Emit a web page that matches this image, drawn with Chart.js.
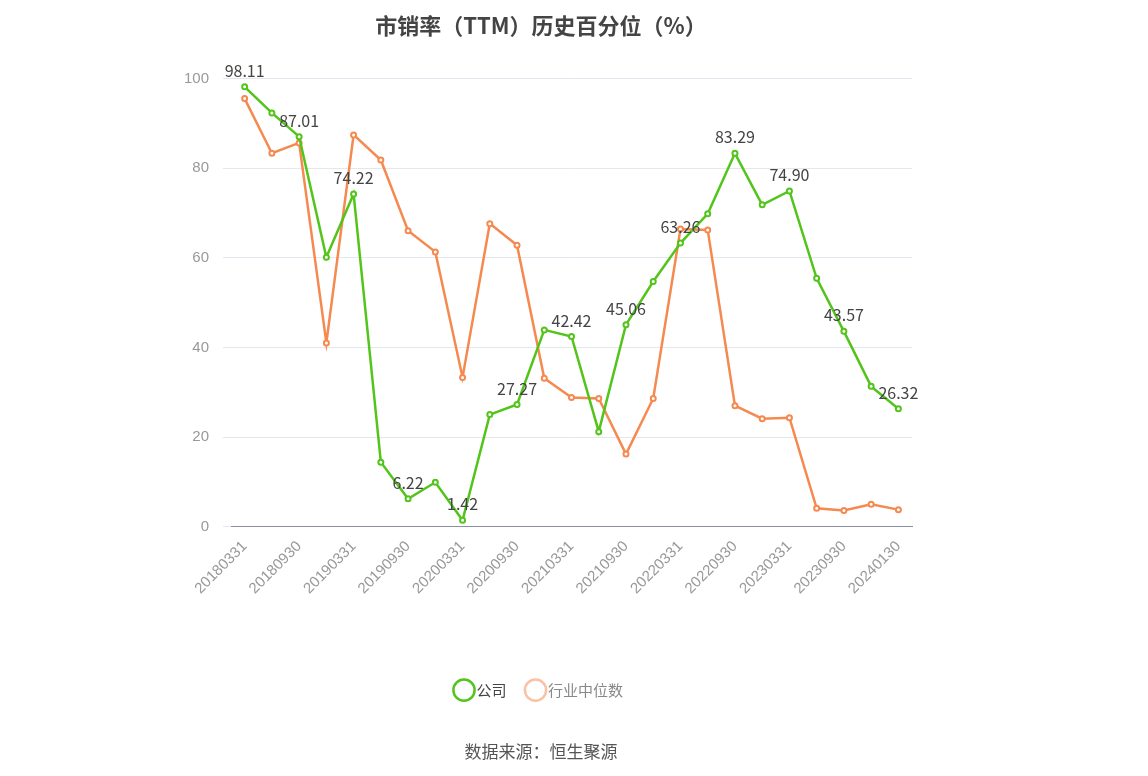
<!DOCTYPE html>
<html lang="zh">
<head>
  <meta charset="UTF-8">
  <title>市销率（TTM）历史百分位（%）</title>
  <style>
    html, body { margin: 0; padding: 0; background: #fff; }
    #wrap { width: 1148px; height: 776px; }
  </style>
  <script src="https://cdn.jsdelivr.net/npm/chart.js"></script>
</head>
<body>
  <div id="wrap"><canvas id="chartCanvas" width="1148" height="776"></canvas></div>
  <script>
    const dates = ["20180331","20180630","20180930","20181231","20190331","20190630","20190930","20191231",
      "20200331","20200630","20200930","20201231","20210331","20210630","20210930","20211231",
      "20220331","20220630","20220930","20221231","20230331","20230630","20230930","20231231","20240130"];
    const company = [98.11,92.3,87.01,60.1,74.22,14.4,6.22,9.9,1.42,25.0,27.27,43.9,42.42,21.2,45.06,54.7,
      63.26,69.8,83.29,71.8,74.90,55.4,43.57,31.3,26.32];
    const industry = [95.5,83.3,85.6,41.0,87.4,81.8,66.0,61.3,33.3,67.6,62.8,33.1,28.8,28.6,16.2,28.6,
      66.4,66.2,27.0,24.1,24.3,4.1,3.6,5.0,3.8];

    const pointLabels = {
      id: "pointLabels",
      afterDatasetsDraw(chart) {
        const ctx = chart.ctx;
        const meta = chart.getDatasetMeta(0);
        ctx.save();
        ctx.font = "16px 'Noto Sans CJK SC', sans-serif";
        ctx.fillStyle = "#444";
        ctx.textAlign = "center";
        ctx.textBaseline = "bottom";
        meta.data.forEach((pt, i) => {
          if (i % 2 !== 0) return;
          ctx.fillText(company[i].toFixed(2), pt.x, pt.y - 8);
        });
        ctx.restore();
      }
    };

    new Chart(document.getElementById("chartCanvas").getContext("2d"), {
      type: "line",
      data: {
        labels: dates,
        datasets: [
          { label: "公司", data: company, borderColor: "#52c41a", backgroundColor: "#fff",
            borderWidth: 2.5, pointRadius: 2.5, pointBorderWidth: 2, pointBorderColor: "#52c41a", tension: 0 },
          { label: "行业中位数", data: industry, borderColor: "#f5894f", backgroundColor: "#fff",
            borderWidth: 2.5, pointRadius: 2.5, pointBorderWidth: 2, pointBorderColor: "#f5894f", tension: 0 }
        ]
      },
      options: {
        responsive: false,
        animation: false,
        layout: { padding: { left: 170, right: 236, top: 10, bottom: 10 } },
        plugins: {
          title: { display: true, text: "市销率（TTM）历史百分位（%）", color: "#444",
            font: { size: 22, weight: "bold", family: "'Noto Sans CJK SC', sans-serif" }, padding: { top: 2, bottom: 40 } },
          subtitle: { display: true, position: "bottom", text: "数据来源：恒生聚源", color: "#555",
            font: { size: 17, family: "'Noto Sans CJK SC', sans-serif" }, padding: { top: 34, bottom: 4 } },
          legend: {
            position: "bottom",
            labels: {
              usePointStyle: true, pointStyle: "circle", boxWidth: 10, padding: 24, color: "#555",
              font: { size: 15, family: "'Noto Sans CJK SC', sans-serif" },
              generateLabels(chart) {
                return chart.data.datasets.map((ds, i) => ({
                  text: ds.label, datasetIndex: i, pointStyle: "circle", lineWidth: 2.5,
                  strokeStyle: i === 0 ? ds.borderColor : "#f9c2a5", fillStyle: "#fff",
                  fontColor: i === 0 ? "#444" : "#888"
                }));
              }
            }
          },
          tooltip: { enabled: false }
        },
        scales: {
          x: {
            offset: true,
            grid: { display: false },
            border: { color: "#8a8fa3" },
            afterFit(scale) { scale.height += 58; },
            ticks: {
              autoSkip: false, maxRotation: 45, minRotation: 45, color: "#999",
              font: { size: 15, family: "'Liberation Sans', sans-serif" },
              callback(v, i) { return i % 2 === 0 ? dates[i] : ""; }
            }
          },
          y: {
            min: 0, max: 100,
            grid: { color: "#e3e7ef" },
            border: { display: false },
            ticks: { stepSize: 20, color: "#999", padding: 14, font: { size: 15, family: "'Liberation Sans', sans-serif" } }
          }
        }
      },
      plugins: [pointLabels]
    });
  </script>
</body>
</html>
